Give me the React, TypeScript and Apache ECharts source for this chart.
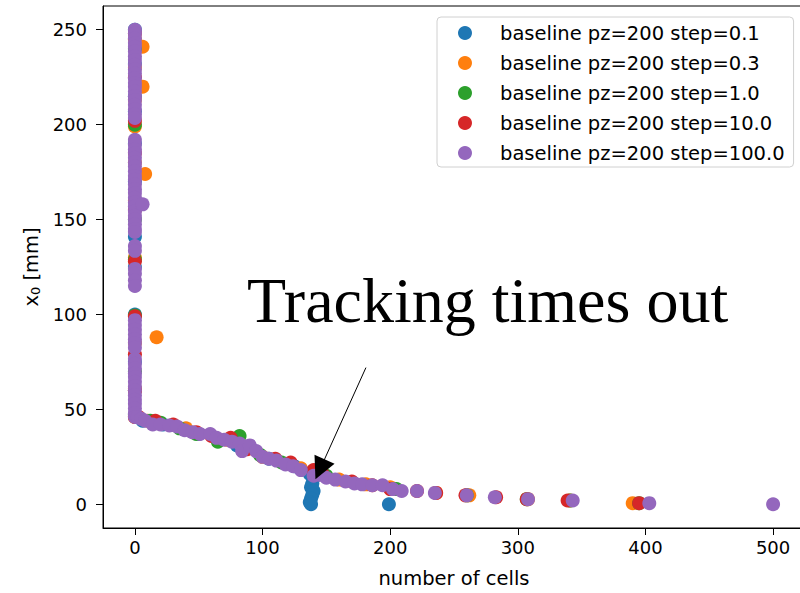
import React, { useEffect, useRef } from "react";
import * as echarts from "echarts";

const seriesNames = [
  "baseline pz=200 step=0.1",
  "baseline pz=200 step=0.3",
  "baseline pz=200 step=1.0",
  "baseline pz=200 step=10.0",
  "baseline pz=200 step=100.0",
];
const seriesColors = ["#1f77b4", "#ff7f0e", "#2ca02c", "#d62728", "#9467bd"];

const xTicks = [0, 100, 200, 300, 400, 500];
const yTicks = [0, 50, 100, 150, 200, 250];

// step=0.1
const blueData = [
  [0, 250], [0, 232], [0, 215], [0, 207], [0, 190], [0, 170], [0, 141], [0, 125],
  [0, 100], [0, 75], [0, 60], [0, 47],
  [6, 44], [22, 42], [50, 37], [80, 31], [105, 24], [125, 20], [137, 16],
  [140, 14], [139, 11], [138, 9], [140, 7], [139, 5], [138, 3], [137, 1], [138, 0],
  [199, 0],
];
// step=0.3
const orangeData = [
  [0, 245], [0, 230], [0, 213], [0, 199], [0, 180], [0, 160], [0, 130], [0, 61],
  [0, 85], [0, 60], [0, 46],
  [6, 241], [6, 220], [8, 174], [17, 88],
  [10, 44], [40, 40], [72, 34], [100, 25], [130, 19], [160, 13], [181, 10.5], [200, 9],
  [236, 6], [262, 4.7], [308, 2.7], [341, 2], [390, 0.6],
];
// step=1.0
const greenData = [
  [0, 240], [0, 200], [0, 150], [0, 129], [0, 99.5], [0, 70], [0, 47],
  [12, 44], [20, 43], [35, 40], [48, 37], [65, 33], [82, 36], [98, 26], [115, 22],
  [150, 15], [205, 8], [260, 4.7], [307, 2.7], [341, 2], [395, 0.6],
];
// step=10.0
const redData = [
  [0, 248], [0, 225], [0, 202], [0, 185], [0, 155], [0, 128], [0, 99], [0, 79],
  [0, 60], [0, 46],
  [3, 46], [16, 44], [30, 42], [48, 38], [60, 36], [75, 35], [88, 29], [110, 24],
  [122, 22], [140, 18], [147, 16], [170, 12], [186, 10], [200, 8], [221, 7], [236, 6],
  [259, 4.7], [283, 3.7], [307, 2.7], [339, 2], [395, 0.6],
];
// step=100.0
const purpleColumn = [
  250, 248, 245.5, 243, 241, 238.5, 236, 234, 231.5, 229, 227, 224.5, 222, 220, 217.5,
  215, 213, 210.5, 208, 205.5, 203.5, 192, 189.5, 187, 185, 182.5, 180, 178, 175.5, 173,
  171, 168.5, 166, 164, 161.5, 159, 157, 154.5, 152, 150, 147.5, 145, 143.5, 136, 133.5,
  124, 121.5, 118, 115, 97, 94.5, 92, 89.5, 87, 85, 82.5, 76.5, 74, 71.5, 69, 67, 64.5,
  62, 60, 57.5, 55, 53, 50.5, 48, 46,
];
const purpleCurve = [
  [6, 158],
  [2, 46], [5, 45], [8, 44], [14, 42], [20, 42], [27, 41.5], [33, 41], [39, 39], [45, 38],
  [51, 37], [59, 37], [64, 35], [70, 34], [76, 33], [82, 32], [84, 28], [90, 31], [95, 28],
  [100, 25], [105, 24], [111, 23], [118, 21], [124, 20], [130, 18], [140, 15], [145, 15.5],
  [150, 14], [157, 13], [165, 12], [172, 11], [178, 10.5], [186, 10], [194, 10], [202, 8],
  [209, 7], [221, 7], [235, 6], [260, 4.7], [282, 3.7], [308, 2.7], [343, 2], [403, 0.6],
  [500, 0],
];

const annotationText = "Tracking times out";
const arrowStart = [181, 72];
const arrowEnd = [145, 18.4];

export default function App() {
  const ref = useRef<HTMLDivElement>(null);
  useEffect(() => {
    if (!ref.current) return;
    const chart = echarts.init(ref.current, null, { renderer: "svg" });
    const font = "DejaVu Sans";
    const purpleData = [...purpleColumn.map((y) => [0, y]), ...purpleCurve];
    const allData = [blueData, orangeData, greenData, redData, purpleData];
    const series: any[] = allData.map((d, i) => ({
      name: seriesNames[i],
      type: "scatter",
      data: d,
      symbol: "circle",
      symbolSize: 14,
      itemStyle: { color: seriesColors[i], opacity: 1 },
      emphasis: { disabled: true },
    }));
    series[4].markLine = {
      silent: true,
      symbol: ["none", "triangle"],
      symbolSize: 22,
      label: { show: false },
      lineStyle: { color: "#000", width: 1, type: "solid" },
      itemStyle: { color: "#000" },
      emphasis: { disabled: true },
      data: [[{ coord: arrowStart }, { coord: arrowEnd }]],
    };
    chart.setOption({
      animation: false,
      backgroundColor: "#fff",
      grid: {
        left: 103,
        top: 6,
        width: 702,
        height: 528,
        show: true,
        borderColor: "#000",
        borderWidth: 1,
        containLabel: false,
      },
      legend: {
        orient: "vertical",
        left: 437,
        top: 17,
        padding: [6, 9, 4, 21],
        itemWidth: 14,
        itemHeight: 14,
        itemGap: 10,
        icon: "circle",
        backgroundColor: "rgba(255,255,255,0.8)",
        borderColor: "#d0d0d0",
        borderWidth: 1,
        borderRadius: 4,
        textStyle: {
          fontFamily: font,
          fontSize: 19.5,
          color: "#000",
          lineHeight: 20,
          padding: [0, 0, 0, 23],
        },
        data: seriesNames,
      },
      xAxis: {
        type: "value",
        min: -25,
        max: 525,
        name: "number of cells",
        nameLocation: "middle",
        nameGap: 40,
        nameTextStyle: { fontFamily: font, fontSize: 19.5, color: "#000" },
        axisLine: { show: true, onZero: false, lineStyle: { color: "#000", width: 1 } },
        axisTick: { show: true, length: 7, customValues: xTicks, lineStyle: { color: "#000" } },
        axisLabel: {
          customValues: xTicks,
          fontFamily: font,
          fontSize: 18,
          color: "#000",
          margin: 10,
        },
        splitLine: { show: false },
      },
      yAxis: {
        type: "value",
        min: -12.5,
        max: 262.5,
        name: "x{sub|0} [mm]",
        nameLocation: "middle",
        nameGap: 58,
        nameTextStyle: {
          fontFamily: font,
          fontSize: 19.5,
          color: "#000",
          rich: {
            sub: { fontFamily: font, fontSize: 13, color: "#000", padding: [8, 0, 0, 0] },
          },
        },
        axisLine: { show: true, onZero: false, lineStyle: { color: "#000", width: 1 } },
        axisTick: { show: true, length: 7, customValues: yTicks, lineStyle: { color: "#000" } },
        axisLabel: {
          customValues: yTicks,
          fontFamily: font,
          fontSize: 18,
          color: "#000",
          margin: 16,
        },
        splitLine: { show: false },
      },
      graphic: [
        {
          type: "text",
          left: 247,
          top: 268,
          z: 100,
          style: {
            text: annotationText,
            fontFamily: "Liberation Serif",
            fontSize: 64,
            fill: "#000",
          },
        },
      ],
      series,
    });
    return () => chart.dispose();
  }, []);
  return (
    <div style={{ position: "fixed", left: 0, top: 0, width: 800, height: 593, overflow: "hidden", background: "#fff" }}>
      <div ref={ref} style={{ width: 810, height: 593 }} />
    </div>
  );
}
